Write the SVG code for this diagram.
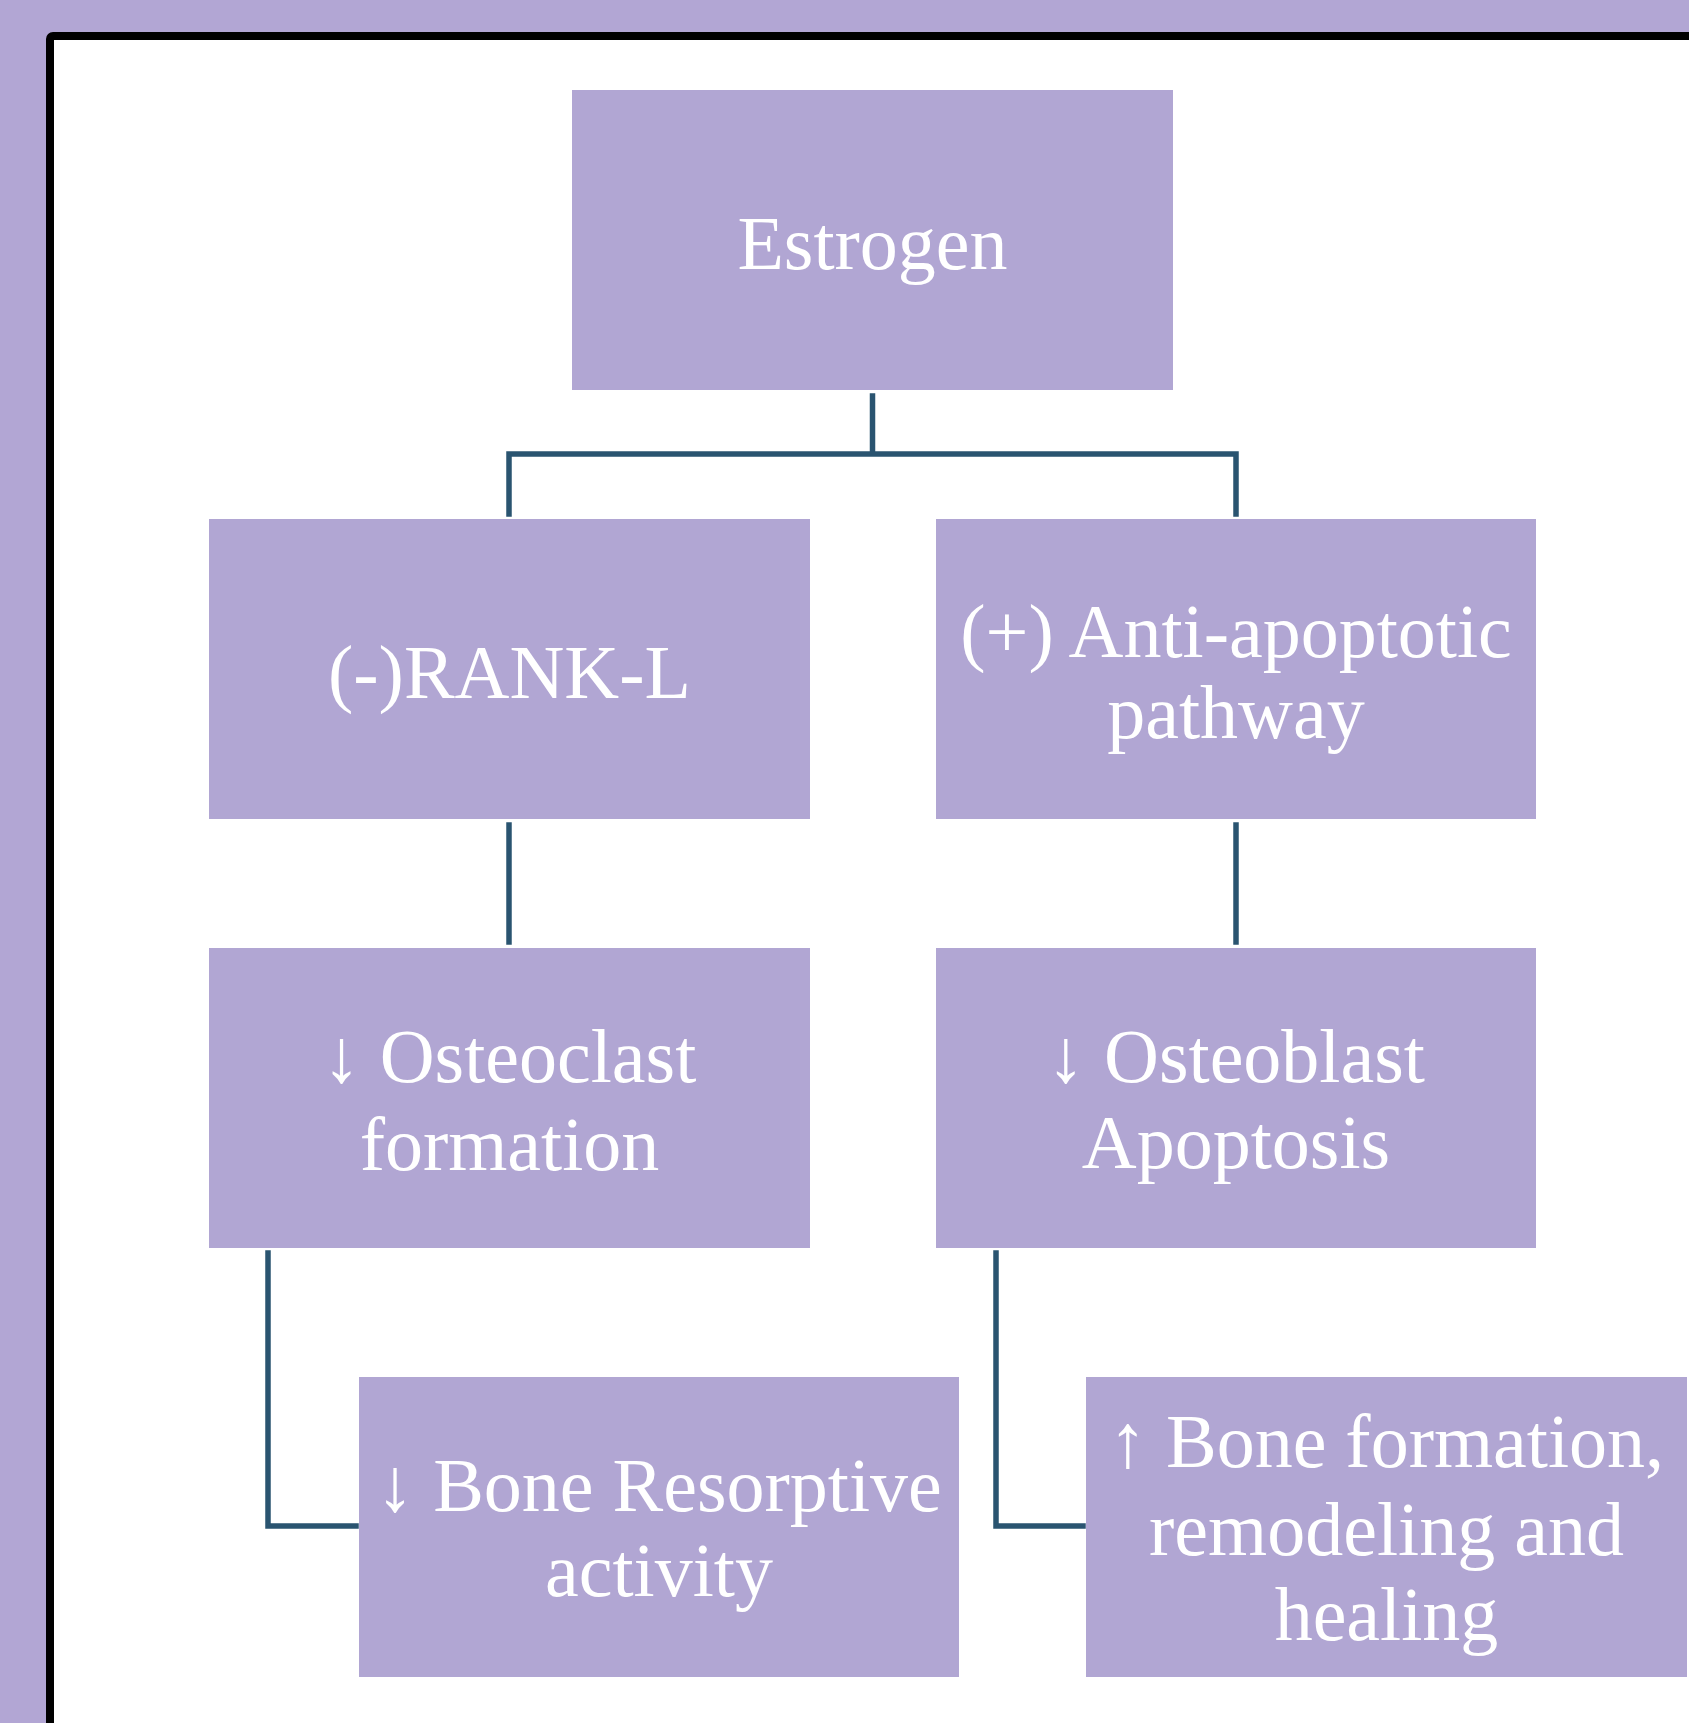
<svg xmlns="http://www.w3.org/2000/svg" width="1689" height="1723" viewBox="0 0 1689 1723">
<style>
.box{fill:#B1A6D3}
.t{fill:#FFFFFF;font-family:"Liberation Serif","DejaVu Serif",serif;font-size:76px;text-anchor:middle}
.c{fill:none;stroke:#2A5470;stroke-width:5.5;stroke-linecap:square;stroke-linejoin:miter}
</style>
<rect x="0" y="0" width="1689" height="1723" fill="#B2A6D4"/>
<rect x="50" y="36" width="1700" height="1750" rx="3" fill="#FFFFFF" stroke="#000000" stroke-width="8"/>
<g id="connectors">
<path class="c" d="M872.5 396 V454 M509 514 V454 H1236 V514"/>
<path class="c" d="M509 825 V942"/>
<path class="c" d="M1236 825 V942"/>
<path class="c" d="M268 1253 V1526 H356"/>
<path class="c" d="M996 1253 V1526 H1083"/>
</g>
<g id="estrogen">
<rect class="box" x="572" y="90" width="601" height="300"/>
<text class="t" x="872.5" y="269">Estrogen</text>
</g>
<g id="rankl">
<rect class="box" x="209" y="519" width="601" height="300"/>
<text class="t" x="509.5" y="698" font-size="78">(-)RANK-L</text>
</g>
<g id="antiapoptotic">
<rect class="box" x="936" y="519" width="600" height="300"/>
<text class="t" x="1236" y="657">(+) Anti-apoptotic</text>
<text class="t" x="1236" y="738">pathway</text>
</g>
<g id="osteoclast">
<rect class="box" x="209" y="948" width="601" height="300"/>
<text class="t" x="509.5" y="1082">↓ Osteoclast</text>
<text class="t" x="509.5" y="1170">formation</text>
</g>
<g id="osteoblast">
<rect class="box" x="936" y="948" width="600" height="300"/>
<text class="t" x="1236" y="1082">↓ Osteoblast</text>
<text class="t" x="1236" y="1168">Apoptosis</text>
</g>
<g id="resorptive">
<rect class="box" x="359" y="1377" width="600" height="300"/>
<text class="t" x="659" y="1511">↓ Bone Resorptive</text>
<text class="t" x="659" y="1596">activity</text>
</g>
<g id="boneformation">
<rect class="box" x="1086" y="1377" width="601" height="300"/>
<text class="t" x="1386.5" y="1467">↑ Bone formation,</text>
<text class="t" x="1386.5" y="1555">remodeling and</text>
<text class="t" x="1386.5" y="1640">healing</text>
</g>
</svg>
